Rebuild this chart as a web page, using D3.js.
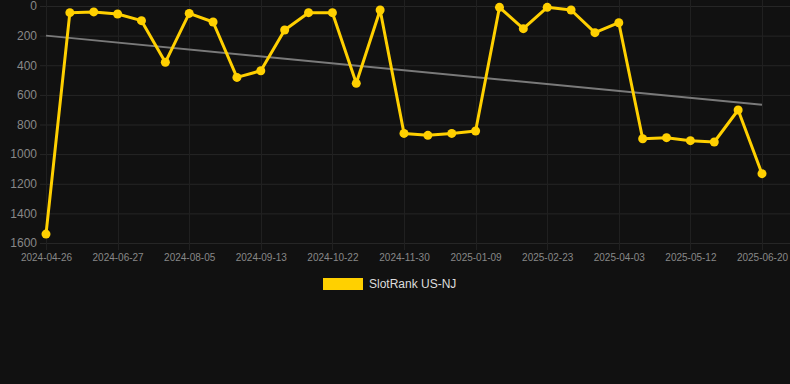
<!DOCTYPE html>
<html>
<head>
<meta charset="utf-8">
<script src="https://cdn.jsdelivr.net/npm/d3@7"></script>
<style>
  html, body { margin: 0; padding: 0; background: #111111; }
  svg { display: block; font-family: "Liberation Sans", Arial, sans-serif; }
</style>
</head>
<body>
<div id="chart"></div>
<script>
// dates of each rank sample (only every 3rd is labelled on the axis)
var dates = [
  "2024-04-26", "2024-05-17", "2024-06-06", "2024-06-27", "2024-07-10", "2024-07-23",
  "2024-08-05", "2024-08-18", "2024-08-31", "2024-09-13", "2024-09-26", "2024-10-09",
  "2024-10-22", "2024-11-04", "2024-11-17", "2024-11-30", "2024-12-13", "2024-12-26",
  "2025-01-09", "2025-01-24", "2025-02-08", "2025-02-23", "2025-03-08", "2025-03-21",
  "2025-04-03", "2025-04-16", "2025-04-29", "2025-05-12", "2025-05-25", "2025-06-07",
  "2025-06-20"
];
var rank = [
  1540, 45, 40, 54, 99, 380,
  50, 108, 482, 437, 162, 45,
  45, 522, 27, 860, 873, 860,
  844, 9, 153, 9, 27, 180,
  113, 896, 889, 909, 918, 702,
  1132
];
// trend line values at first and last date
var trend = [200, 667];
var yTicks = [0, 200, 400, 600, 800, 1000, 1200, 1400, 1600];
var seriesName = "SlotRank US-NJ";

var width = 790, height = 384;
var plot = {left: 40, right: 790, top: 6, bottom: 243};

var svg = d3.select("#chart")
  .append("svg")
  .attr("width", width)
  .attr("height", height);

var x = d3.scalePoint().domain(dates).range([46, 762]);
var y = d3.scaleLinear().domain([0, 1600]).range([plot.top, plot.bottom]);

var tickDates = dates.filter(function (d, i) { return i % 3 === 0; });

// grid
svg.append("g")
  .selectAll("line")
  .data(yTicks)
  .enter().append("line")
    .attr("x1", plot.left).attr("x2", plot.right)
    .attr("y1", function (d) { return y(d) + 0.5; })
    .attr("y2", function (d) { return y(d) + 0.5; })
    .attr("stroke", "#262626")
    .attr("stroke-width", 1);

svg.append("g")
  .selectAll("line")
  .data(tickDates)
  .enter().append("line")
    .attr("x1", function (d) { return Math.round(x(d)) + 0.5; })
    .attr("x2", function (d) { return Math.round(x(d)) + 0.5; })
    .attr("y1", plot.top - 6)
    .attr("y2", plot.bottom + 7)
    .attr("stroke", "#202020")
    .attr("stroke-width", 1);

// y axis labels
var yAxis = d3.axisLeft(y).tickValues(yTicks).tickFormat(d3.format("d")).tickSize(0).tickPadding(0);
svg.append("g")
  .attr("transform", "translate(37,0)")
  .call(yAxis)
  .call(function (g) { g.select(".domain").remove(); })
  .selectAll("text")
    .attr("fill", "#888888")
    .style("font-size", "12px");

// x axis labels
var xAxis = d3.axisBottom(x).tickValues(tickDates).tickSize(0).tickPadding(0);
svg.append("g")
  .attr("transform", "translate(0," + (plot.bottom + 11) + ")")
  .call(xAxis)
  .call(function (g) { g.select(".domain").remove(); })
  .selectAll("text")
    .attr("fill", "#888888")
    .style("font-size", "10px");

// trend line
svg.append("line")
  .attr("x1", x(dates[0]))
  .attr("y1", y(trend[0]))
  .attr("x2", x(dates[dates.length - 1]))
  .attr("y2", y(trend[1]))
  .attr("stroke", "#7a7a7a")
  .attr("stroke-width", 2);

var data = dates.map(function (d, i) { return {date: d, value: rank[i]}; });

// rank line
svg.append("path")
  .datum(data)
  .attr("fill", "none")
  .attr("stroke", "#FFD000")
  .attr("stroke-width", 3)
  .attr("stroke-linejoin", "round")
  .attr("d", d3.line()
    .x(function (d) { return x(d.date); })
    .y(function (d) { return y(d.value); }));

svg.append("g")
  .selectAll("circle")
  .data(data)
  .enter().append("circle")
    .attr("cx", function (d) { return x(d.date); })
    .attr("cy", function (d) { return y(d.value); })
    .attr("r", 4.5)
    .attr("fill", "#FFD000");

// legend
svg.append("rect")
  .attr("x", 323).attr("y", 278)
  .attr("width", 40).attr("height", 12)
  .attr("fill", "#FFD000");

svg.append("text")
  .attr("x", 369).attr("y", 284)
  .attr("dy", "0.35em")
  .attr("fill", "#dddddd")
  .style("font-size", "12px")
  .text(seriesName);
</script>
</body>
</html>
